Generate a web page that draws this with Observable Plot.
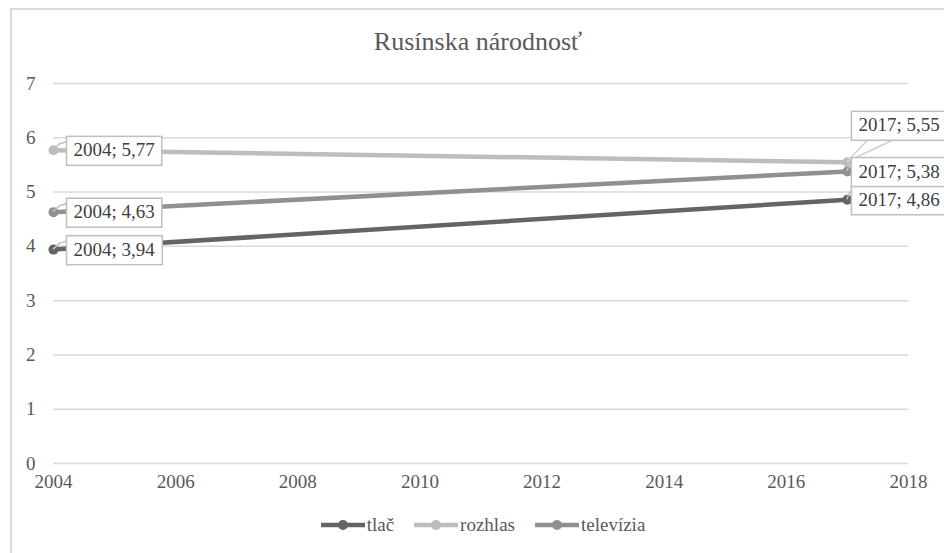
<!DOCTYPE html>
<html>
<head>
<meta charset="utf-8">
<script src="https://cdn.jsdelivr.net/npm/d3@7"></script>
<script src="https://cdn.jsdelivr.net/npm/@observablehq/plot@0.6"></script>
<style>
  body { margin: 0; background: #fff; }
  #chart { position: relative; width: 944px; height: 553px; overflow: hidden; background: #fff; }
  #chart > svg { position: absolute; left: 0; top: 0; }
  #frame { position: absolute; left: 10px; top: 8px; width: 1000px; height: 600px; border-left: 2px solid #d9d9d9; border-top: 2px solid #d9d9d9; pointer-events: none; }
  #heading { position: absolute; top: 27px; left: 0; width: 956px; text-align: center; font-size: 26px; color: #595959; }
  #key { position: absolute; top: 514px; left: 0; width: 966px; display: flex; justify-content: center; gap: 20px; font-size: 19px; color: #595959; }
  #key .item { display: flex; align-items: center; gap: 2px; }
  #key svg { display: block; }
</style>
</head>
<body>
<div id="chart">
  <div id="heading">Rusínska národnosť</div>
  <div id="key"></div>
  <div id="frame"></div>
</div>
<script>
// Survey years and the three media series
const years = [2004, 2017];
const seriesNames = ["tlač", "rozhlas", "televízia"];
const tlac = [3.94, 4.86];
const rozhlas = [5.77, 5.55];
const televizia = [4.63, 5.38];
const yTicks = [0, 1, 2, 3, 4, 5, 6, 7];
const xTicks = [2004, 2006, 2008, 2010, 2012, 2014, 2016, 2018];

const colors = {"tlač": "#646464", "rozhlas": "#bdbdbd", "televízia": "#909090"};
const valuesBySeries = {"tlač": tlac, "rozhlas": rozhlas, "televízia": televizia};

const rows = seriesNames.flatMap(s => years.map((y, i) => ({series: s, year: y, value: valuesBySeries[s][i]})));
const fmt = v => String(v).replace(".", ",");
const faces = ["Liberation Serif"];
const face = `'${faces[0]}', monospace`;

// label placement: right of the point; the rozhlas 2017 label is lifted above as a callout
const labelDx = d => d.year === 2004 ? 20 : 11;
const labelDy = d => (d.year === 2017 && d.series === "rozhlas") ? -37 : 0;

const labelMarks = rows.map(d => Plot.text([d], {
  x: "year", y: "value",
  text: r => `${r.year}; ${fmt(r.value)}`,
  textAnchor: "start", dx: labelDx(d), dy: labelDy(d),
  fill: "#404040", fontSize: 19,
  className: "lbl"
}));

const plot = Plot.plot({
  width: 944, height: 553,
  marginLeft: 53, marginRight: 36, marginTop: 83, marginBottom: 90,
  style: {fontSize: "19px", color: "#595959", background: "none"},
  x: {domain: [2004, 2018], label: null},
  y: {domain: [0, 7], label: null},
  marks: [
    Plot.gridY(yTicks, {stroke: "#d9d9d9", strokeOpacity: 1, strokeWidth: 1.5}),
    Plot.axisY(yTicks, {tickSize: 0, tickPadding: 18, fontSize: 19, tickFormat: "d"}),
    Plot.axisX(xTicks, {tickSize: 0, tickPadding: 11, fontSize: 19, tickFormat: "d"}),
    Plot.line(rows, {x: "year", y: "value", z: "series", stroke: d => colors[d.series], strokeWidth: 4.5}),
    Plot.dot(rows, {x: "year", y: "value", fill: d => colors[d.series], r: 5}),
    ...labelMarks
  ]
});

const chart = document.getElementById("chart");
chart.prepend(plot);

// typeface applied inline to every text element
plot.querySelectorAll("text").forEach(t => { t.style.fontFamily = face; });
document.getElementById("heading").style.fontFamily = face;
document.getElementById("key").style.fontFamily = face;

// white boxes with leader lines behind each data label
const xs = plot.scale("x"), ys = plot.scale("y");
const svg = d3.select(plot);
const svgRect = plot.getBoundingClientRect();
const boxLayer = svg.append("g");
const textLayer = svg.append("g");
plot.querySelectorAll("g.lbl").forEach((g, i) => {
  const d = rows[i];
  const r = g.querySelector("text").getBoundingClientRect();
  const left = r.left - svgRect.left - 7;
  const right = r.right - svgRect.left + 7;
  const midY = (r.top + r.bottom) / 2 - svgRect.top + 1;
  const top = midY - 14.5, bottom = midY + 14.5;
  const px = xs.apply(d.year), py = ys.apply(d.value);
  if (labelDy(d) !== 0) {
    boxLayer.append("path")
      .attr("d", `M${px},${py}L${left + 16},${bottom}L${left + 41},${bottom}Z`)
      .attr("fill", "#fff").attr("stroke", "#cfcfcf").attr("stroke-width", 1.5);
  } else {
    boxLayer.append("path")
      .attr("d", `M${px},${py}L${px + Math.min(7, (left - px) / 2)},${py - 6}L${left},${py - 8}`)
      .attr("fill", "none").attr("stroke", "#bfbfbf").attr("stroke-width", 1.5);
  }
  boxLayer.append("rect")
    .attr("x", left).attr("y", top).attr("width", right - left).attr("height", bottom - top)
    .attr("fill", "#fff").attr("stroke", "#bfbfbf").attr("stroke-width", 1.5);
  textLayer.node().appendChild(g);
});

// legend
const key = d3.select("#key");
seriesNames.forEach(s => {
  const item = key.append("div").attr("class", "item");
  const sw = item.append("svg").attr("width", 44).attr("height", 12);
  sw.append("line").attr("x1", 0).attr("x2", 44).attr("y1", 6).attr("y2", 6)
    .attr("stroke", colors[s]).attr("stroke-width", 4.5);
  sw.append("circle").attr("cx", 22).attr("cy", 6).attr("r", 5).attr("fill", colors[s]);
  item.append("span").text(s);
});
</script>
</body>
</html>
